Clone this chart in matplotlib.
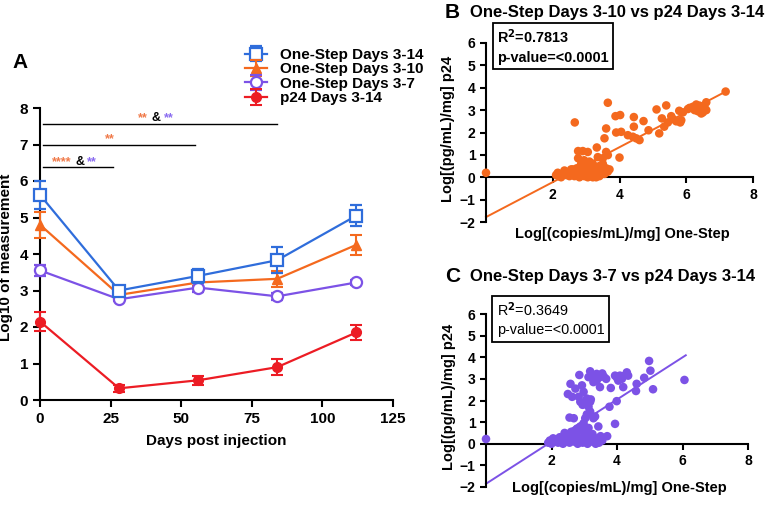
import matplotlib
matplotlib.use('Agg')
import matplotlib.pyplot as plt
import numpy as np

plt.rcParams['font.family'] = ['Liberation Sans', 'DejaVu Sans']
plt.rcParams['font.weight'] = 'bold'
plt.rcParams['axes.linewidth'] = 1.5

# ---------------- Panel A data ----------------
days = [0, 28, 56, 84, 112]
labels_a = ['One-Step Days 3-14', 'One-Step Days 3-10', 'One-Step Days 3-7', 'p24 Days 3-14']
os_3_14 = [5.62, 3.00, 3.40, 3.83, 5.05]
os_3_14_err = [0.38, 0.10, 0.20, 0.35, 0.28]
os_3_10 = [4.80, 2.88, 3.22, 3.32, 4.25]
os_3_10_err = [0.35, 0.06, 0.10, 0.22, 0.27]
os_3_7 = [3.55, 2.76, 3.08, 2.84, 3.22]
os_3_7_err = [0.15, 0.05, 0.12, 0.10, 0.07]
p24 = [2.15, 0.32, 0.54, 0.90, 1.85]
p24_err = [0.25, 0.10, 0.12, 0.22, 0.20]

# significance brackets: (x_start, x_end, y)
sig_lines = [(1, 84, 7.57), (1, 55, 7.00), (1, 26, 6.37)]

# ---------------- Panel B data ----------------
b_x = [0.0, 2.10, 2.15, 2.20, 2.25, 2.30, 2.35, 2.40, 2.45, 2.50, 2.55, 2.60, 2.60, 2.65, 2.70, 2.72,
       2.75, 2.75, 2.80, 2.85, 2.90, 2.95, 3.00, 3.05, 3.05, 3.10, 3.15, 3.20, 3.25, 3.30, 3.30, 3.35,
       3.40, 3.45, 3.50, 3.55, 3.60, 3.65, 3.70, 2.95, 3.10, 2.85, 3.00, 3.20, 3.40, 3.50,
       2.76, 2.90, 3.05, 2.76, 2.94, 3.10, 3.32, 3.60, 3.65, 4.00, 3.55, 3.50, 3.35,
       2.66, 3.65, 3.60, 3.88, 4.02, 3.90, 4.05, 4.25, 4.40, 4.50, 4.60, 4.43, 4.43, 4.72, 4.87,
       5.11, 5.40, 5.27, 5.55, 5.19, 5.34, 5.45, 5.60, 5.70, 5.79, 5.82, 5.90, 5.85, 6.05, 6.10,
       6.20, 6.25, 6.30, 6.35, 6.40, 6.45, 6.50, 6.55, 6.60, 6.60, 6.45, 6.30, 7.18]
b_y = [0.20, 0.10, 0.20, 0.05, 0.00, 0.15, 0.30, 0.10, 0.22, 0.05, 0.35, 0.15, 0.35, 0.05, 0.25, 0.40,
       0.10, 0.20, 0.00, 0.30, 0.15, 0.05, 0.35, 0.20, 0.00, 0.10, 0.45, 0.00, 0.25, 0.10, 0.00, 0.35,
       0.05, 0.20, 0.30, 0.15, 0.40, 0.25, 0.35, 0.50, 0.55, 0.60, 0.65, 0.60, 0.50, 0.60,
       1.17, 1.17, 1.13, 0.85, 0.76, 0.70, 1.33, 1.13, 0.99, 0.88, 1.74, 0.85, 0.90,
       2.45, 3.33, 2.18, 2.73, 2.78, 2.00, 2.03, 1.88, 1.81, 1.74, 1.66, 2.26, 2.69, 2.51, 2.10,
       3.03, 3.21, 2.63, 2.73, 1.96, 2.26, 2.45, 2.60, 2.50, 2.97, 2.45, 2.90, 2.55, 3.05, 3.10,
       3.15, 3.00, 3.10, 2.95, 3.20, 3.05, 2.90, 3.10, 3.35, 3.00, 2.85, 3.25, 3.83]
b_fit = (0.781, -1.78, 7.18)   # slope, intercept, x max
b_stats = 'R$^\\mathbf{2}$=0.7813\np-value=<0.0001'

# ---------------- Panel C data ----------------
c_x = [0.0, 1.90, 1.95, 2.00, 2.05, 2.10, 2.15, 2.20, 2.25, 2.30, 2.35, 2.40, 2.45, 2.50, 2.55, 2.60,
       2.65, 2.70, 2.75, 2.80, 2.85, 2.90, 2.95, 3.00, 3.05, 3.10, 3.15, 3.20, 3.25, 3.30, 3.35, 3.40,
       3.45, 3.50, 3.55, 3.70, 2.40, 2.60, 2.85, 3.00, 3.25, 2.70, 3.10,
       2.55, 2.68, 3.08, 3.03, 3.28, 3.33, 3.18, 2.98, 3.43, 2.88, 2.78, 3.13, 3.94, 3.77, 3.99,
       2.58, 2.73, 2.63, 2.83, 2.98, 3.08, 3.03, 2.88, 3.18, 3.13, 2.93, 2.85,
       3.67, 3.48, 3.38, 3.28, 3.18, 3.28, 3.48, 3.38, 3.13, 3.55, 3.60,
       4.30, 4.34, 4.19, 4.09, 3.94, 4.04, 4.19, 3.81, 4.00, 4.15,
       4.60, 4.58, 4.83, 4.98, 5.02, 5.10, 6.06, 2.50, 2.95, 3.20]
c_y = [0.22, 0.05, 0.15, 0.00, 0.25, 0.10, 0.20, 0.05, 0.30, 0.15, 0.00, 0.25, 0.10, 0.35, 0.05, 0.20,
       0.30, 0.10, 0.45, 0.00, 0.25, 0.15, 0.05, 0.35, 0.20, 0.00, 0.40, 0.10, 0.30, 0.15, 0.00, 0.25,
       0.05, 0.35, 0.15, 0.35, 0.50, 0.55, 0.60, 0.65, 0.45, 0.40, 0.55,
       1.21, 1.18, 1.36, 1.18, 1.18, 1.26, 1.49, 0.95, 0.80, 0.80, 0.70, 0.73, 0.92, 1.71, 1.97,
       2.77, 2.55, 2.17, 2.17, 2.40, 2.09, 1.86, 1.94, 1.94, 1.71, 2.70, 3.18,
       3.00, 3.08, 3.23, 3.15, 3.35, 2.85, 2.62, 2.92, 3.08, 3.25, 3.10,
       3.30, 3.15, 3.12, 3.15, 3.15, 2.92, 2.62, 2.58, 3.05, 3.00,
       2.77, 2.44, 3.05, 3.83, 3.38, 2.52, 2.95, 2.30, 1.80, 2.05]
c_fit = (0.974, -1.85, 6.10)
c_stats = 'R$^2$=0.3649\np-value=<0.0001'

BLUE = '#2f6ddb'
ORANGE = '#f4691e'
PURPLE = '#7c52e6'
RED = '#ec1c24'
SIG_ORANGE = '#f07a4a'
SIG_PURPLE = '#8a6cf0'

fig = plt.figure(figsize=(7.74, 5.07), dpi=100)
fig.patch.set_facecolor('white')

# ---------------- Panel A ----------------
axA = fig.add_axes([40/774, 1-400/507, (393-40)/774, (400-108)/507])
common = dict(lw=1.6, elinewidth=1.5, capsize=4, capthick=1.5, clip_on=False)
h1 = axA.errorbar(days, os_3_14, yerr=os_3_14_err, color=BLUE, marker='s', ms=8,
                  mfc='white', mew=1.6, label=labels_a[0], zorder=4, **common)
h2 = axA.errorbar(days, os_3_10, yerr=os_3_10_err, color=ORANGE, marker='^', ms=7,
                  label=labels_a[1], zorder=3, **common)
h3 = axA.errorbar(days, os_3_7, yerr=os_3_7_err, color=PURPLE, marker='o', ms=8,
                  mfc='white', mew=1.6, label=labels_a[2], zorder=3, **common)
h4 = axA.errorbar(days, p24, yerr=p24_err, color=RED, marker='o', ms=7,
                  label=labels_a[3], zorder=3, **common)
for c in [h1, h2, h3, h4]:
    for l in c[1]:
        l.set_clip_on(False)
    for l in c[2]:
        l.set_clip_on(False)

axA.set_xlim(0, 125)
axA.set_ylim(0, 8)
axA.set_xticks([0, 25, 50, 75, 100, 125])
axA.set_yticks(range(0, 9))
axA.spines['top'].set_visible(False)
axA.spines['right'].set_visible(False)
axA.tick_params(direction='out', length=5, width=1.5, labelsize=11)
axA.set_xlabel('Days post injection', fontsize=11, fontweight='bold')
axA.set_ylabel('Log10 of measurement', fontsize=11, fontweight='bold')
axA.xaxis.set_label_coords(0.5, -0.115)
axA.yaxis.set_label_coords(-0.077, 0.49)

for x0, x1, y in sig_lines:
    axA.plot([x0, x1], [y, y], color='black', lw=1.0, clip_on=False)
sig_fs = 9
axA.text(36.5, 7.64, '**', color=SIG_ORANGE, fontsize=sig_fs, ha='center', va='baseline')
axA.text(41.1, 7.64, '&', color='black', fontsize=sig_fs, ha='center', va='baseline')
axA.text(45.5, 7.64, '**', color=SIG_PURPLE, fontsize=sig_fs, ha='center', va='baseline')
axA.text(24.8, 7.07, '**', color=SIG_ORANGE, fontsize=sig_fs, ha='center', va='baseline')
axA.text(7.8, 6.44, '****', color=SIG_ORANGE, fontsize=sig_fs, ha='center', va='baseline')
axA.text(14.0, 6.44, '&', color='black', fontsize=sig_fs, ha='center', va='baseline')
axA.text(18.3, 6.44, '**', color=SIG_PURPLE, fontsize=sig_fs, ha='center', va='baseline')

leg = axA.legend(handles=[h1, h2, h3, h4], loc='upper left', bbox_to_anchor=(0.558, 1.232),
                 frameon=False, fontsize=11, labelspacing=0.03, handlelength=1.45,
                 handletextpad=0.85, borderpad=0.0)

fig.text(12/774, 1-62/507, 'A', fontsize=15, fontweight='bold', va='center', ha='left')


def scatter_panel(rect, xs, ys, color, fit, stats, title, letter, title_y, stats_bold,
                  xlabel_y, stats_y):
    ax = fig.add_axes(rect)
    ax.scatter(xs, ys, s=38, color=color, edgecolors='none', clip_on=False, zorder=3)
    slope, icpt, xmax = fit
    xl = np.array([0.0, xmax])
    ax.plot(xl, slope * xl + icpt, color=color, lw=1.4, clip_on=False, zorder=2)
    ax.set_xlim(0, 8)
    ax.set_ylim(-2, 6)
    ax.set_xticks([2, 4, 6, 8])
    ax.set_yticks(range(-2, 7))
    ax.spines['top'].set_visible(False)
    ax.spines['right'].set_visible(False)
    ax.spines['bottom'].set_position(('data', 0))
    ax.tick_params(direction='out', length=4, width=1.5, labelsize=10)
    ax.set_xlabel('Log[(copies/mL)/mg] One-Step', fontsize=10.5, fontweight='bold')
    ax.xaxis.set_label_coords(0.51, xlabel_y)
    ax.xaxis.label.set_va('center')
    ax.set_ylabel('Log[(pg/mL)/mg] p24', fontsize=10.5, fontweight='bold')
    ax.yaxis.set_label_coords(-0.115, 0.52)
    ax.text(0.042, stats_y, stats, transform=ax.transAxes, fontsize=10.4,
            fontweight='bold' if stats_bold else 'normal', va='top', ha='left',
            linespacing=1.4,
            bbox=dict(boxstyle='square,pad=0.32', fc='white', ec='black', lw=1.3))
    fig.text(470/774, title_y, title, fontsize=12, fontweight='bold',
             ha='left', va='center')
    fig.text(445/774, title_y, letter, fontsize=15, fontweight='bold',
             ha='left', va='center')
    return ax


scatter_panel([486/774, 1-222/507, 267/774, 179/507], b_x, b_y, ORANGE, b_fit, b_stats,
              'One-Step Days 3-10 vs p24 Days 3-14', 'B', 1-13/507, True, -0.065, 1.085)
scatter_panel([486/774, 1-487/507, 262/774, 173/507], c_x, c_y, PURPLE, c_fit, c_stats,
              'One-Step Days 3-7 vs p24 Days 3-14', 'C', 1-277/507, False, -0.005, 1.08)

fig.savefig('out.png', dpi=100, facecolor='white')
